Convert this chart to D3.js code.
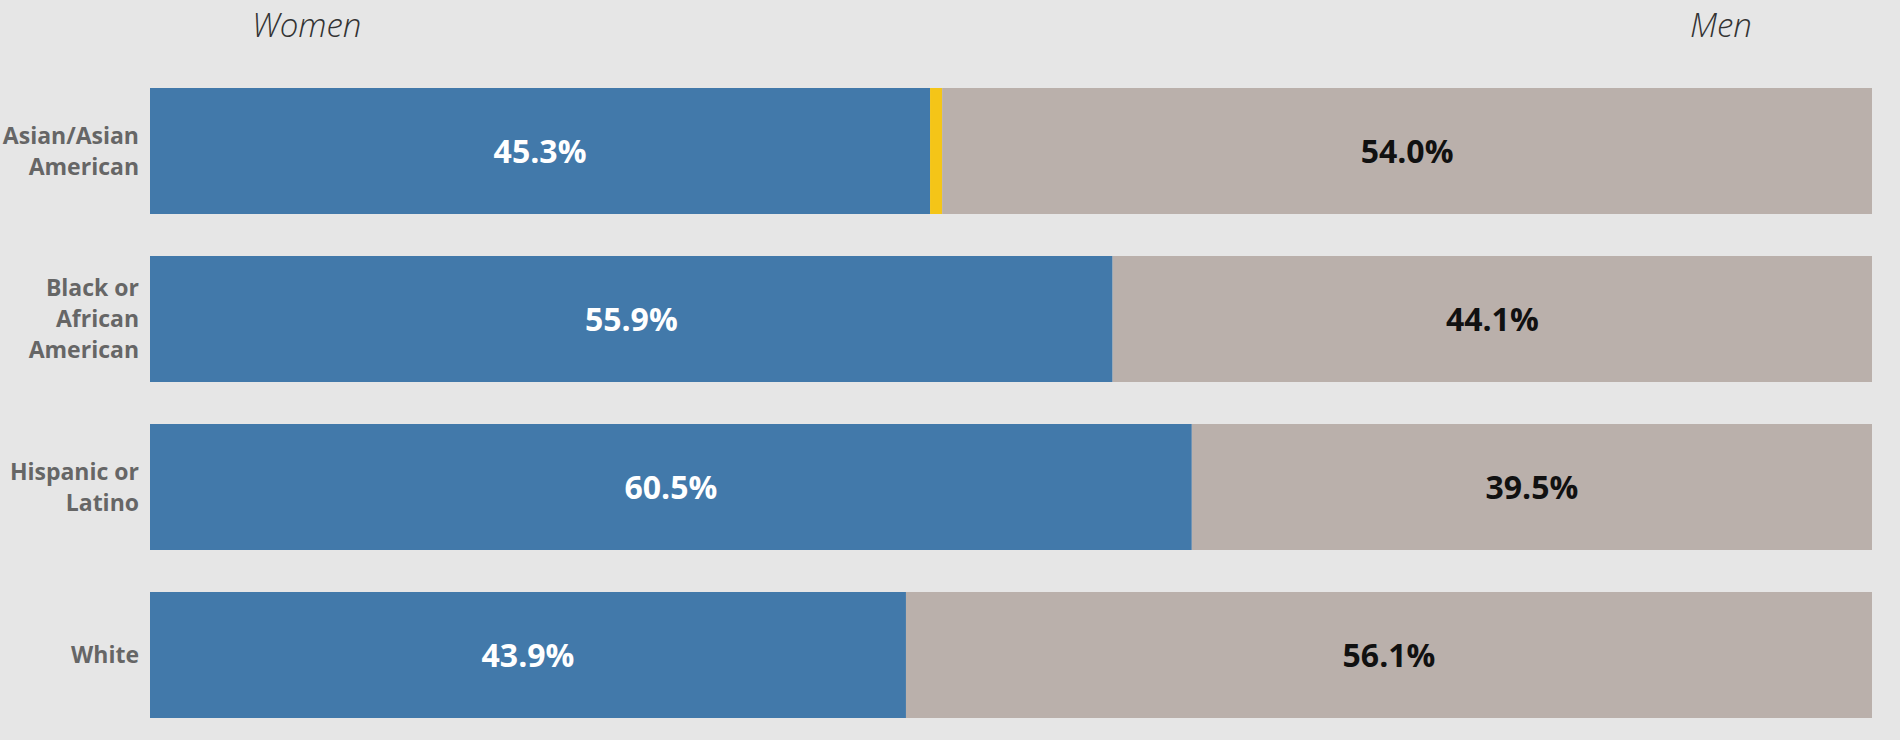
<!DOCTYPE html>
<html>
<head>
<meta charset="utf-8">
<script src="https://cdn.jsdelivr.net/npm/d3@7"></script>
<style>
    body { margin: 0; background: #e6e6e6; }
    svg { display: block; }
</style>
</head>
<body>
<svg id="chart"></svg>
<script>
// share of each group
const categories = ["Asian/Asian American", "Black or African American", "Hispanic or Latino", "White"];
const labelLines = [["Asian/Asian", "American"], ["Black or", "African", "American"], ["Hispanic or", "Latino"], ["White"]];
const women = [0.453, 0.559, 0.605, 0.439];
const other = [0.007, 0, 0, 0];
const men = [0.540, 0.441, 0.395, 0.561];
const headers = ["Women", "Men"];

(function() {
    const width = 1900, height = 740;
    const colors = { women: "#4279aa", other: "#f4c518", men: "#bab0ab" };

    const svg = d3.select("#chart")
        .attr("width", width)
        .attr("height", height);

    const x = d3.scaleLinear().domain([0, 1]).range([150, 1872]);
    const y = d3.scaleBand()
        .domain(categories)
        .range([67, 739])
        .paddingInner(0.25)
        .paddingOuter(0.125);

    const rows = categories.map((c, i) => ({
        cat: c,
        lines: labelLines[i],
        parts: [
            { key: "women", start: 0, value: women[i] },
            { key: "other", start: women[i], value: other[i] },
            { key: "men", start: women[i] + other[i], value: men[i] }
        ]
    }));

    const row = svg.selectAll(".row")
        .data(rows)
        .enter().append("g")
        .attr("class", "row");

    row.selectAll("rect")
        .data(d => d.parts.filter(p => p.value > 0).map(p => Object.assign({ cat: d.cat }, p)))
        .enter().append("rect")
        .attr("x", p => x(p.start))
        .attr("y", p => y(p.cat))
        .attr("width", p => x(p.start + p.value) - x(p.start))
        .attr("height", y.bandwidth())
        .attr("fill", p => colors[p.key]);

    // value labels, centred in each main segment
    row.selectAll(".val")
        .data(d => d.parts.filter(p => p.key !== "other").map(p => Object.assign({ cat: d.cat }, p)))
        .enter().append("text")
        .attr("class", "val")
        .attr("x", p => (x(p.start) + x(p.start + p.value)) / 2)
        .attr("y", p => y(p.cat) + y.bandwidth() / 2)
        .attr("dy", "0.36em")
        .attr("text-anchor", "middle")
        .attr("font-family", "'Open Sans', sans-serif")
        .attr("font-weight", 700)
        .attr("font-size", "32px")
        .attr("fill", p => p.key === "women" ? "#ffffff" : "#111111")
        .text(p => d3.format(".1%")(p.value));

    // category labels on the left
    const lineH = 31;
    row.append("text")
        .attr("text-anchor", "end")
        .attr("font-family", "'Open Sans', sans-serif")
        .attr("font-weight", 700)
        .attr("font-size", "23px")
        .attr("fill", "#666666")
        .each(function(d) {
            const cy = y(d.cat) + y.bandwidth() / 2;
            const top = cy - (d.lines.length - 1) * lineH / 2;
            d3.select(this).selectAll("tspan")
                .data(d.lines)
                .enter().append("tspan")
                .attr("x", 139)
                .attr("y", (l, j) => top + j * lineH)
                .attr("dy", "0.35em")
                .text(l => l);
        });

    // column headers
    svg.selectAll(".header")
        .data(headers)
        .enter().append("text")
        .attr("class", "header")
        .attr("x", (d, i) => i === 0 ? 252 : 1690)
        .attr("y", 37)
        .attr("font-family", "'Open Sans', sans-serif")
        .attr("font-style", "italic")
        .attr("font-weight", 300)
        .attr("font-size", "33px")
        .attr("fill", "#333333")
        .text(d => d);
})();
</script>
</body>
</html>
